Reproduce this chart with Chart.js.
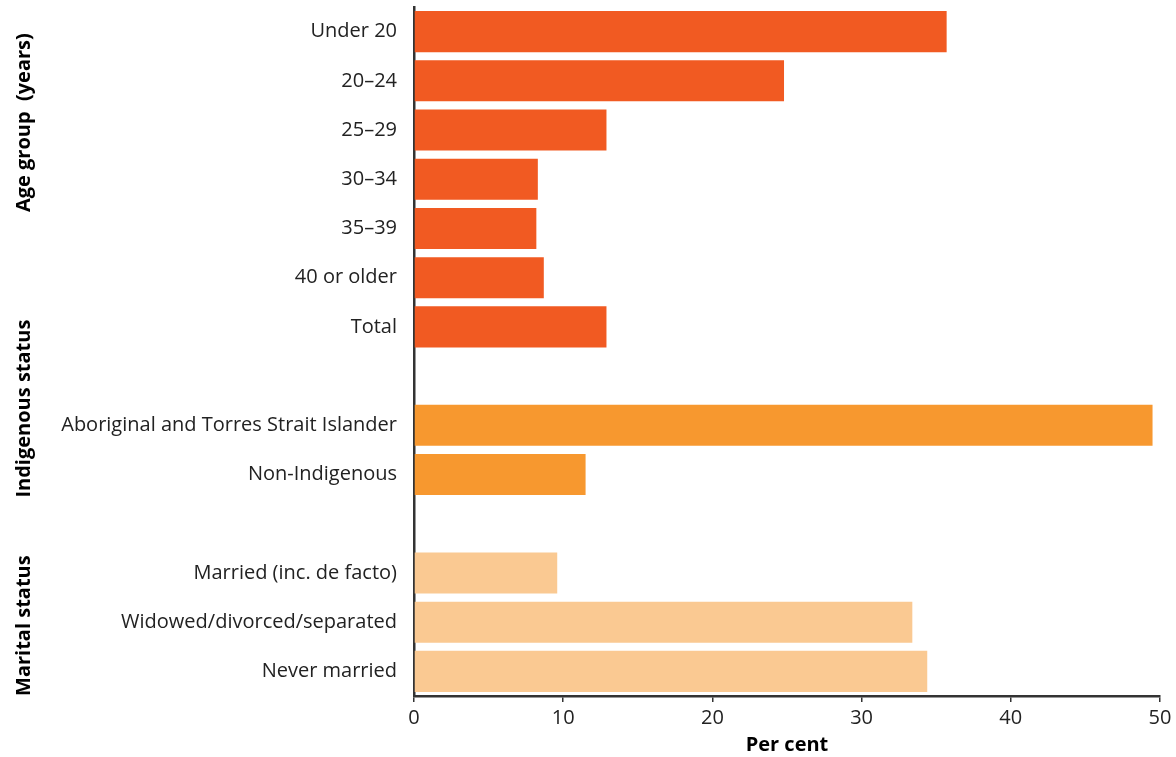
<!DOCTYPE html>
<html>
<head>
<meta charset="utf-8">
<script src="https://cdn.jsdelivr.net/npm/chart.js@4/dist/chart.umd.min.js"></script>
<style>
  html, body { margin: 0; padding: 0; background: #fff; }
  #wrap { width: 1176px; height: 757px; position: relative; }
</style>
</head>
<body>
<div id="wrap"><canvas id="barChart"></canvas></div>
<script>
/*
==================================
    Data
==================================
*/
var categories = ['Under 20', '20–24', '25–29', '30–34', '35–39', '40 or older', 'Total', '',
    'Aboriginal and Torres Strait Islander', 'Non-Indigenous', '',
    'Married (inc. de facto)', 'Widowed/divorced/separated', 'Never married'];
var percentValues = [35.7, 24.8, 12.9, 8.3, 8.2, 8.7, 12.9, null, 49.5, 11.5, null, 9.6, 33.4, 34.4];
var categoryGroup = [0, 0, 0, 0, 0, 0, 0, null, 1, 1, null, 2, 2, 2];
var groupNames = ['Age group  (years)', 'Indigenous status', 'Marital status'];
var groupAnchor = [1.85, 7.66, 12.07];
var groupColours = ['#F15A22', '#F7982F', '#FAC992'];
var xTicks = [0, 10, 20, 30, 40, 50];

/*
==================================
    Group title plugin
==================================
*/
var groupTitles = {
    id: 'groupTitles',
    afterDraw: function(chart) {
        var c = chart.ctx;
        var yScale = chart.scales.y;
        c.save();
        c.fillStyle = '#000';
        c.font = 'bold 20px "Open Sans"';
        c.textAlign = 'center';
        c.textBaseline = 'middle';
        groupNames.forEach(function(name, i) {
            var y = yScale.getPixelForValue(groupAnchor[i]);
            c.save();
            c.translate(24, y);
            c.rotate(-Math.PI / 2);
            c.fillText(name, 0, 0);
            c.restore();
        });
        c.restore();
    }
};

/*
==================================
    Bar Chart
==================================
*/
var ctx = document.getElementById('barChart');
var barChart = new Chart(ctx, {
    type: 'bar',
    data: {
        labels: categories,
        datasets: [{
            data: percentValues,
            backgroundColor: categoryGroup.map(function(g) { return g === null ? 'rgba(0,0,0,0)' : groupColours[g]; }),
            borderWidth: 0,
            barPercentage: 0.835,
            categoryPercentage: 1
        }]
    },
    options: {
        indexAxis: 'y',
        responsive: true,
        maintainAspectRatio: false,
        animation: false,
        layout: { padding: { top: 7, right: 16, bottom: 0, left: 0 } },
        plugins: {
            legend: { display: false },
            tooltip: { enabled: false }
        },
        scales: {
            x: {
                min: 0,
                max: 50,
                afterBuildTicks: function(scale) {
                    scale.ticks = xTicks.map(function(v) { return { value: v }; });
                },
                afterFit: function(scale) {
                    scale.height = 61;
                    scale.paddingLeft = 0;
                    scale.paddingRight = 0;
                },
                grid: { drawOnChartArea: false, drawTicks: true, tickLength: 6, color: '#333', lineWidth: 1.5 },
                border: { display: true, color: '#333', width: 2.5 },
                ticks: { color: '#222', padding: 4, font: { family: 'Open Sans', size: 20 } },
                title: {
                    display: true,
                    text: 'Per cent',
                    color: '#000',
                    padding: { top: 0, bottom: 0 },
                    font: { family: 'Open Sans', size: 20, weight: 'bold' }
                }
            },
            y: {
                afterFit: function(scale) {
                    scale.width = 414;
                    scale.paddingTop = 0;
                    scale.paddingBottom = 0;
                },
                grid: { drawOnChartArea: false, drawTicks: false },
                border: { display: true, color: '#333', width: 2.5 },
                ticks: { color: '#222', padding: 17, autoSkip: false, font: { family: 'Open Sans', size: 20 } }
            }
        }
    },
    plugins: [groupTitles]
});
</script>
</body>
</html>
